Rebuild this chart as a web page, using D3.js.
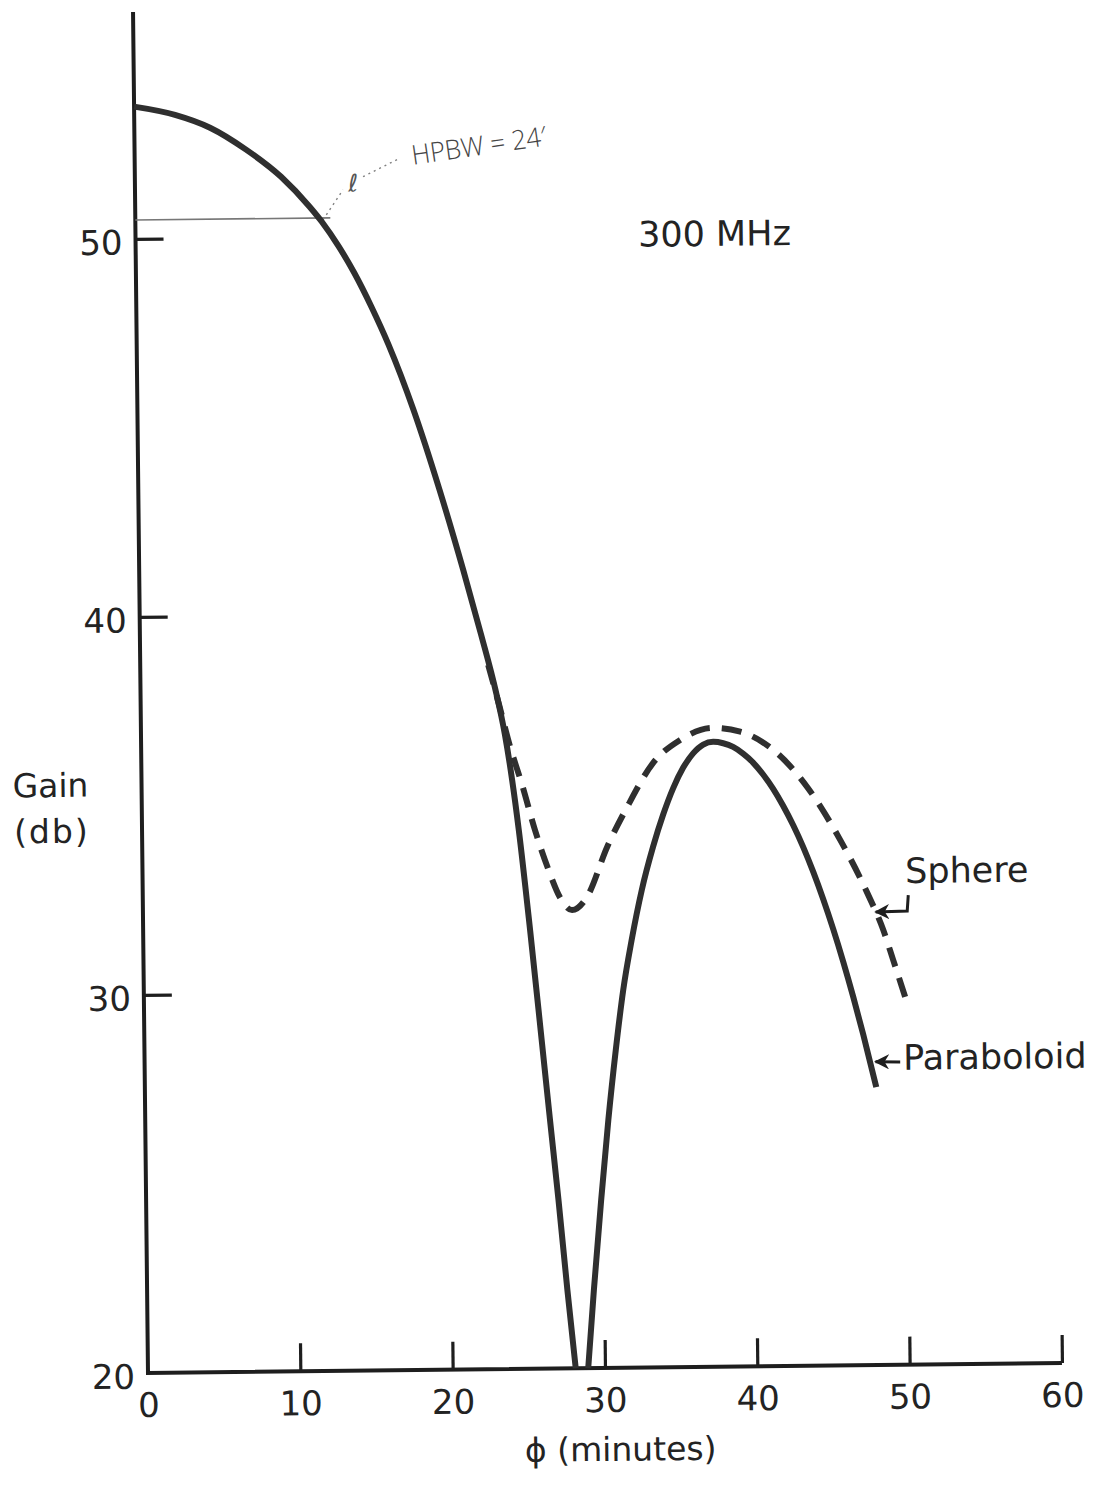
<!DOCTYPE html>
<html>
<head>
<meta charset="utf-8">
<script src="https://cdn.jsdelivr.net/npm/d3@7"></script>
<style>
  body { margin: 0; background: #fff; }
  svg { display: block; background: #fff; }
  text { font-family: "DejaVu Sans", sans-serif; fill: #232323; }
</style>
</head>
<body>
<svg id="chart" width="1102" height="1490"></svg>
<script>
// Axis ticks
const phiTicks = [0, 10, 20, 30, 40, 50, 60];
const gainTicks = [20, 30, 40, 50];

// Paraboloid pattern: main lobe down to the first null
const paraboloidMainLobe = [
  [0, 53.5], [2.68, 53.27], [4.97, 52.92], [7.32, 52.33], [9.6, 51.6], [11.45, 50.8],
  [12.24, 50.4], [13.35, 49.73], [14.33, 49.04], [15.44, 48.13], [16.53, 47.13],
  [18.12, 45.4], [19.77, 43.28], [21.27, 41.15], [22.4, 39.43], [23.3, 37.97],
  [23.89, 36.78], [24.33, 35.58], [24.73, 34.26], [25.4, 31.61], [26.08, 28.7],
  [26.57, 26.58], [27.07, 24.46], [27.59, 22.07], [28.08, 20]
];
// Paraboloid pattern: first side lobe
const paraboloidSideLobe = [
  [28.9, 20], [29.33, 22.07], [29.87, 24.44], [30.4, 26.56], [30.94, 28.41],
  [31.47, 29.99], [32.06, 31.31], [32.76, 32.63], [33.54, 33.78], [34.22, 34.62],
  [34.89, 35.31], [35.56, 35.85], [36.23, 36.23], [36.9, 36.46], [37.55, 36.53],
  [38.21, 36.49], [38.86, 36.39], [39.51, 36.21], [40.16, 35.97], [40.81, 35.65],
  [41.46, 35.27], [42.1, 34.82], [42.75, 34.3], [43.39, 33.72], [44.03, 33.06],
  [44.66, 32.34], [45.3, 31.54], [45.93, 30.68], [46.56, 29.75], [47.19, 28.75],
  [48.01, 27.35]
];
// Sphere pattern, leaving the paraboloid curve near 23'
const sphereLobe = [
  [22.84, 38.63], [23.53, 37.57], [24.22, 36.46], [24.98, 35.45], [25.8, 34.24],
  [26.63, 33.22], [27.4, 32.45], [28.17, 32.12], [29.17, 32.47], [30.52, 33.78],
  [31.86, 34.83], [33.6, 35.99], [35.39, 36.59], [37.5, 36.9], [39.34, 36.79],
  [41.49, 36.3], [43.69, 35.31], [45.82, 33.9], [47.56, 32.49], [48.58, 31.51],
  [49.21, 30.71], [49.97, 29.73]
];

// Half-power beam width marker
const halfPower = { gain: 50.5, lineEnd: 12.8, label: "HPBW = 24\u2032" };
const hpbwLeaderLow = [[12.32, 50.45], [13.66, 51.24]];
const hpbwLeaderHigh = [[14.98, 51.58], [17.22, 52.02]];

// Curve labels with their pointer arrows
const sphereArrow = [[50.25, 32.42], [50.17, 32.0], [48.1, 31.98]];
const paraboloidArrow = [[49.6, 28.01], [47.98, 28.02]];
const sphereLabel = { text: "Sphere", phi: 50.06, gain: 32.74 };
const paraboloidLabel = { text: "Paraboloid", phi: 49.79, gain: 27.8 };
const freqLabel = { text: "300 MHz", phi: 32.99, gain: 49.65 };

const svg = d3.select("#chart");

// The drawing sits on a slightly tilted sheet; everything is laid out in its frame
const plot = svg.append("g")
  .attr("transform", "translate(148,1373) rotate(-0.63)");

const x = d3.scaleLinear().domain([0, 60]).range([0, 914]);
const y = d3.scaleLinear().domain([20, 56]).range([0, -1361]);

const ink = "#1e1e1e";
const curveInk = "#2f2f2f";

// Arrowhead marker
svg.append("defs").append("marker")
  .attr("id", "arrowhead")
  .attr("viewBox", "0 0 10 10")
  .attr("refX", 9).attr("refY", 5)
  .attr("markerWidth", 5).attr("markerHeight", 5)
  .attr("markerUnits", "strokeWidth")
  .attr("orient", "auto")
  .append("path")
  .attr("d", "M0,0 L10,5 L0,10 L3,5 Z")
  .attr("fill", ink);

// Y axis ticks and labels
const yAxis = d3.axisLeft(y)
  .tickValues(gainTicks)
  .tickFormat(d3.format("d"))
  .tickSizeInner(-28)
  .tickSizeOuter(0)
  .tickPadding(13);
const gy = plot.append("g").call(yAxis);
gy.select(".domain").remove();
gy.selectAll(".tick line")
  .attr("stroke", ink).attr("stroke-width", 3.2)
  .filter(d => d === 20).remove();
gy.selectAll(".tick text")
  .attr("font-size", 34)
  .attr("dy", 15);

// X axis ticks and labels
const xAxis = d3.axisBottom(x)
  .tickValues(phiTicks)
  .tickFormat(d3.format("d"))
  .tickSizeInner(-28)
  .tickSizeOuter(0);
const gx = plot.append("g").call(xAxis);
gx.select(".domain").remove();
gx.selectAll(".tick line")
  .attr("stroke", ink).attr("stroke-width", 3.2)
  .filter(d => d === 0).remove();
gx.selectAll(".tick text")
  .attr("font-size", 34)
  .attr("y", 44)
  .attr("dy", 0);

// Axis lines
plot.append("path")
  .attr("d", `M${x(0)},${y(56)} L${x(0)},${y(20)} L${x(60)},${y(20)}`)
  .attr("fill", "none")
  .attr("stroke", ink)
  .attr("stroke-width", 4)
  .attr("stroke-linejoin", "miter");

// Half-power reference line and handwritten note
plot.append("line")
  .attr("x1", x(0)).attr("y1", y(halfPower.gain))
  .attr("x2", x(halfPower.lineEnd)).attr("y2", y(halfPower.gain))
  .attr("stroke", "#777").attr("stroke-width", 1.6);

const straight = d3.line().x(d => x(d[0])).y(d => y(d[1]));

[hpbwLeaderLow, hpbwLeaderHigh].forEach(pts => {
  plot.append("path")
    .attr("d", straight(pts))
    .attr("fill", "none")
    .attr("stroke", "#808080")
    .attr("stroke-width", 1.4)
    .attr("stroke-dasharray", "2 4");
});

plot.append("text")
  .attr("x", x(14.0)).attr("y", y(51.19))
  .attr("font-size", 24)
  .attr("font-style", "italic")
  .style("fill", "#555")
  .text("\u2113");

plot.append("text")
  .attr("transform", `translate(${x(18.27)},${y(51.88)}) rotate(-7.6)`)
  .attr("font-size", 27)
  .attr("font-weight", 300)
  .style("font-family", "'Open Sans', sans-serif")
  .style("fill", "#444")
  .attr("textLength", 136)
  .attr("lengthAdjust", "spacingAndGlyphs")
  .text(halfPower.label);

// Pattern curves
const line = d3.line()
  .x(d => x(d[0]))
  .y(d => y(d[1]))
  .curve(d3.curveMonotoneX);

plot.append("path")
  .attr("d", line(paraboloidMainLobe))
  .attr("fill", "none")
  .attr("stroke", curveInk)
  .attr("stroke-width", 6);

plot.append("path")
  .attr("d", line(paraboloidSideLobe))
  .attr("fill", "none")
  .attr("stroke", curveInk)
  .attr("stroke-width", 6);

plot.append("path")
  .attr("d", line(sphereLobe))
  .attr("fill", "none")
  .attr("stroke", curveInk)
  .attr("stroke-width", 6)
  .attr("stroke-dasharray", "20 12");

// Pointer arrows
[sphereArrow, paraboloidArrow].forEach(pts => {
  plot.append("path")
    .attr("d", straight(pts))
    .attr("fill", "none")
    .attr("stroke", ink)
    .attr("stroke-width", 3)
    .attr("marker-end", "url(#arrowhead)");
});

// Text labels
[sphereLabel, paraboloidLabel, freqLabel].forEach(l => {
  plot.append("text")
    .attr("x", x(l.phi)).attr("y", y(l.gain))
    .attr("font-size", 35)
    .text(l.text);
});

// Axis titles
plot.append("text")
  .attr("x", -129).attr("y", -577)
  .attr("font-size", 33)
  .text("Gain");
plot.append("text")
  .attr("x", -128).attr("y", -531)
  .attr("font-size", 33)
  .attr("letter-spacing", 2)
  .text("(db)");
plot.append("text")
  .attr("x", 376).attr("y", 93)
  .attr("font-size", 33)
  .text("\u03D5 (minutes)");
</script>
</body>
</html>
